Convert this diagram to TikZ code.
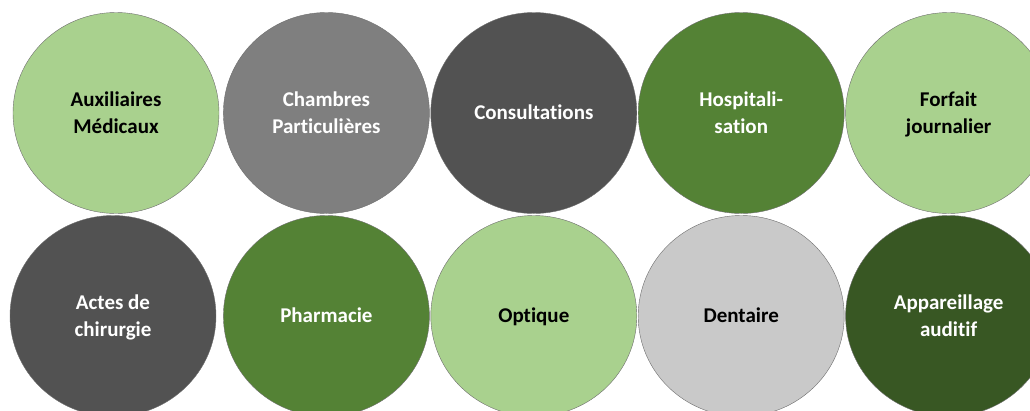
\documentclass[tikz,border=0pt]{standalone}
\usepackage{fontspec}
\setmainfont[Ligatures=NoCommon]{Carlito}
\usetikzlibrary{shapes.geometric,positioning}
\definecolor{vertclair}{HTML}{A9D18E}
\definecolor{vert}{HTML}{548235}
\definecolor{vertfonce}{HTML}{385723}
\definecolor{grisfonce}{HTML}{525252}
\definecolor{gris}{HTML}{7F7F7F}
\definecolor{grisclair}{HTML}{C9C9C9}
\definecolor{bord}{HTML}{6E6E6E}
\tikzstyle{poste}=[ellipse, draw=bord, minimum width=206pt, minimum height=201pt, inner sep=0pt, align=center, text depth=0pt, font=\fontsize{21}{27}\selectfont\bfseries]
\tikzstyle{clair}=[poste, text=black]
\tikzstyle{fonce}=[poste, text=white]
\tikzstyle{seul}=[text height=13.5pt]

\begin{document}
\begin{tikzpicture}[node distance=1pt and 1pt]
\clip (0,0) rectangle (1030pt,-410pt);
% premiere rangee
\node (aux) [clair, fill=vertclair] at (116pt,-113pt) {Auxiliaires\\Médicaux};
\node (chambres) [fonce, fill=gris, right=4pt of aux] {Chambres\\Particulières};
\node (consult) [fonce, seul, fill=grisfonce, right=of chambres] {Consultations};
\node (hospi) [fonce, fill=vert, right=of consult] {Hospitali-\\sation};
\node (forfait) [clair, fill=vertclair, right=of hospi] {Forfait\\journalier};
% deuxieme rangee
\node (actes) [fonce, fill=grisfonce] at (113pt,-316pt) {Actes de\\chirurgie};
\node (pharma) [fonce, seul, fill=vert, right=7pt of actes] {Pharmacie};
\node (optique) [clair, seul, fill=vertclair, right=of pharma] {Optique};
\node (dentaire) [clair, seul, fill=grisclair, right=of optique] {Dentaire};
\node (audio) [fonce, fill=vertfonce, right=of dentaire] {Appareillage\\auditif};
\end{tikzpicture}
\end{document}
